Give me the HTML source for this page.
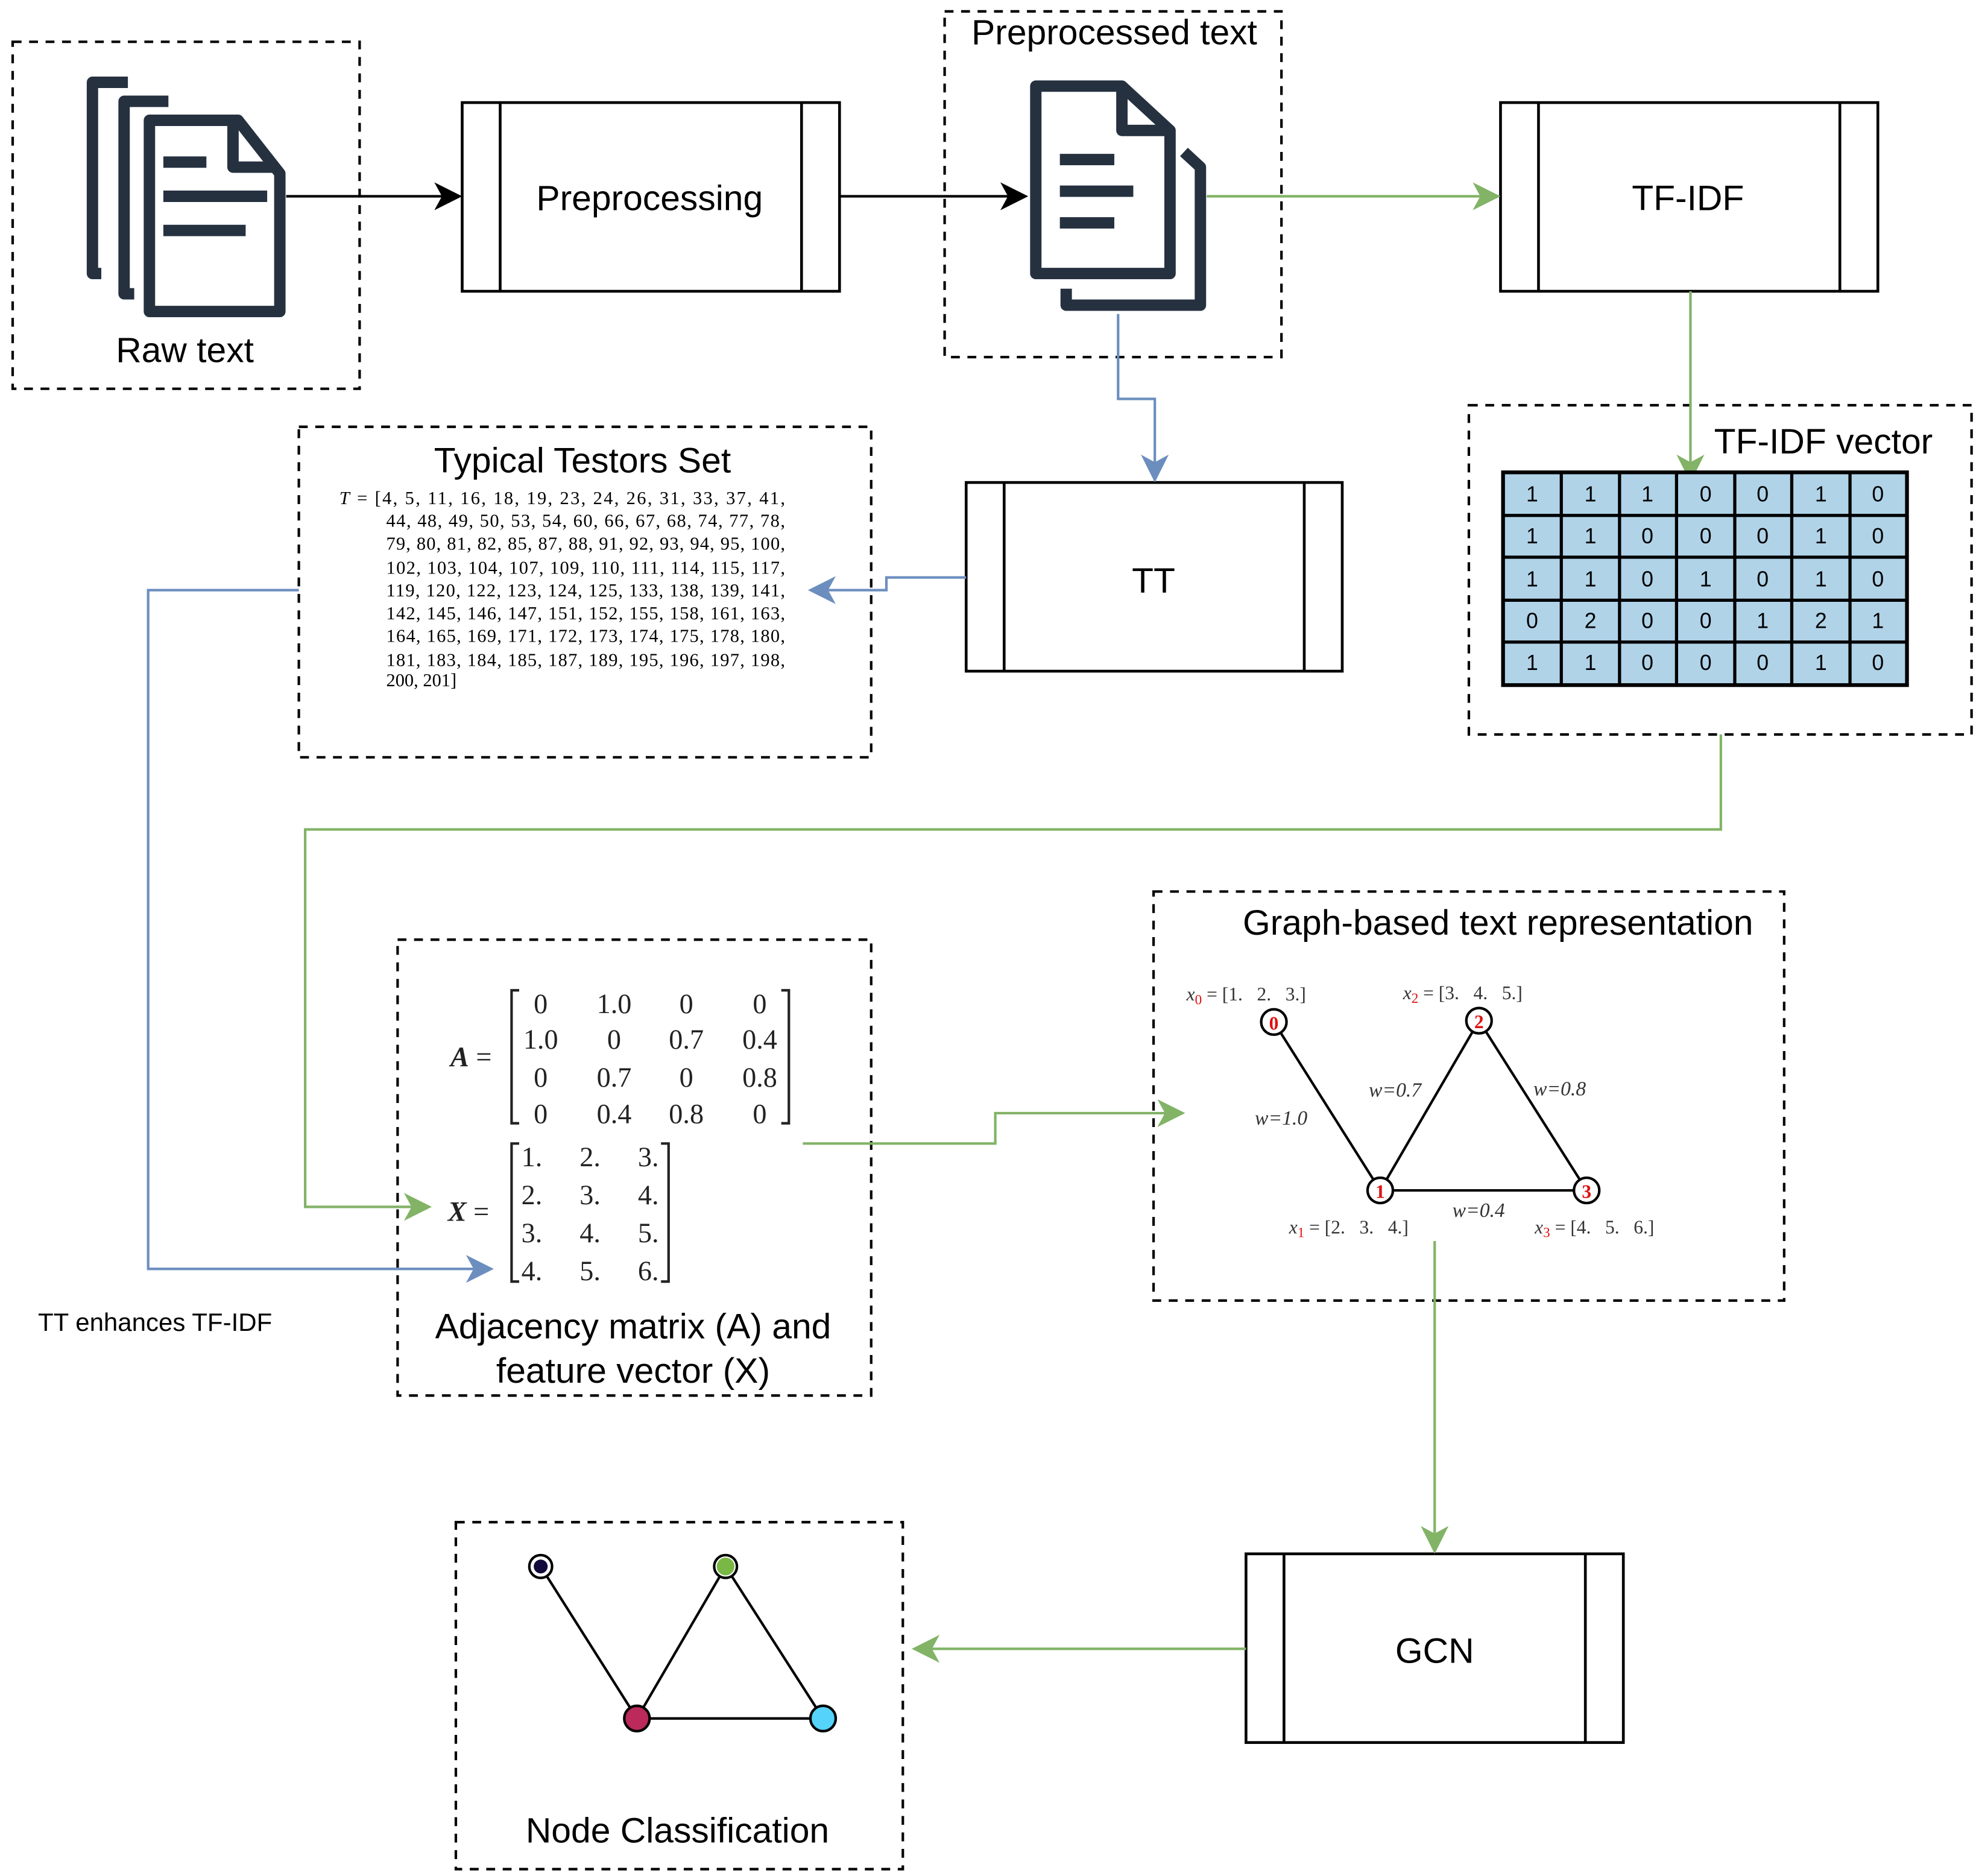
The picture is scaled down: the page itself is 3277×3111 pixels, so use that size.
<!DOCTYPE html>
<html><head><meta charset="utf-8"><style>
html,body{margin:0;padding:0;background:#fff;}
svg{display:block;}
.s{font-family:"Liberation Sans",sans-serif;}
.r{font-family:"Liberation Serif",serif;}
</style></head><body>
<svg width="3277" height="3111" viewBox="0 0 1560.5 1481.4" preserveAspectRatio="none" xmlns="http://www.w3.org/2000/svg">
<rect width="1560.5" height="1481.4" fill="#fff"/>
<g fill="none" stroke="#000" stroke-width="2" stroke-dasharray="7,6">
<rect x="10" y="33" width="274" height="274"/>
<rect x="746" y="9" width="266" height="273"/>
<rect x="1160" y="320" width="397" height="260"/>
<rect x="236" y="337" width="452" height="261"/>
<rect x="314" y="742" width="374" height="360"/>
<rect x="911" y="704" width="498" height="323"/>
<rect x="360" y="1202" width="353" height="274"/>
</g>
<g fill="#fff" stroke="#000" stroke-width="2.2">
<rect x="365" y="81" width="298" height="149"/><line x1="395" y1="81" x2="395" y2="230"/><line x1="633" y1="81" x2="633" y2="230"/>
<rect x="1185" y="81" width="298" height="149"/><line x1="1215" y1="81" x2="1215" y2="230"/><line x1="1453" y1="81" x2="1453" y2="230"/>
<rect x="763" y="381" width="297" height="149"/><line x1="793" y1="381" x2="793" y2="530"/><line x1="1030" y1="381" x2="1030" y2="530"/>
<rect x="984" y="1227" width="298" height="149"/><line x1="1014" y1="1227" x2="1014" y2="1376"/><line x1="1252" y1="1227" x2="1252" y2="1376"/>
</g>
<g class="s" font-size="28" text-anchor="middle" fill="#000">
<text x="513" y="166">Preprocessing</text>
<text x="1333" y="166">TF-IDF</text>
<text x="911" y="468">TT</text>
<text x="1133" y="1313">GCN</text>
<text x="146" y="286">Raw text</text>
<text x="880" y="35">Preprocessed text</text>
<text x="1440" y="358">TF-IDF vector</text>
<text x="460" y="373">Typical Testors Set</text>
<text x="1183" y="738">Graph-based text representation</text>
<text x="500" y="1057">Adjacency matrix (A) and</text>
<text x="500" y="1092">feature vector (X)</text>
<text x="535" y="1455">Node Classification</text>
</g>
<text class="s" x="30" y="1051" font-size="20">TT enhances TF-IDF</text>
<g fill="none" stroke="#263140" stroke-width="9" stroke-linejoin="round">
<path d="M101,65 L73,65 L73,216 L80,216"/>
<path d="M133,80 L98,80 L98,232 L106,232"/>
<path d="M118,95 L188,95 L221,137 L221,246 L118,246 Z"/>
<path d="M184,97 L184,132 L219,132"/>
</g>
<g stroke="#263140" stroke-width="9"><line x1="129" y1="128" x2="163" y2="128"/><line x1="129" y1="155" x2="211" y2="155"/><line x1="129" y1="182" x2="194" y2="182"/></g>
<g fill="none" stroke="#263140" stroke-width="9" stroke-linejoin="round">
<path d="M935,120 L948,132 L948,241 L842,241 L842,228"/>
<path d="M818,68 L886,68 L924,103 L924,216 L818,216 Z"/>
<path d="M886,70 L886,103 L922,103"/>
</g>
<g stroke="#263140" stroke-width="9"><line x1="837" y1="126" x2="880" y2="126"/><line x1="837" y1="151" x2="895" y2="151"/><line x1="837" y1="176" x2="880" y2="176"/></g>
<g stroke="#000" stroke-width="2" fill="none"><line x1="226" y1="155" x2="350" y2="155"/><line x1="663" y1="155" x2="797" y2="155"/></g>
<path d="M365,155 L343,144 L349,155 L343,166 Z" fill="#000"/>
<path d="M812,155 L790,144 L796,155 L790,166 Z" fill="#000"/>
<g stroke="#82b366" stroke-width="2" fill="none">
<line x1="953" y1="155" x2="1170" y2="155"/>
<line x1="1335" y1="230" x2="1335" y2="366"/>
<polyline points="1359,580 1359,655 241,655 241,953 326,953"/>
<polyline points="634,903 786,903 786,879 921,879"/>
<line x1="1133" y1="980" x2="1133" y2="1211"/>
<line x1="984" y1="1302" x2="735" y2="1302"/>
</g>
<g fill="#82b366">
<path d="M1185,155 L1163,144 L1169,155 L1163,166 Z"/>
<path d="M1335,381 L1324,359 L1335,365 L1346,359 Z"/>
<path d="M341,953 L319,942 L325,953 L319,964 Z"/>
<path d="M936,879 L914,868 L920,879 L914,890 Z"/>
<path d="M1133,1227 L1122,1205 L1133,1211 L1144,1205 Z"/>
<path d="M720,1302 L742,1291 L736,1302 L742,1313 Z"/>
</g>
<g stroke="#6c8ebf" stroke-width="2" fill="none">
<polyline points="883,248 883,315 912,315 912,366"/>
<polyline points="763,456 700,456 700,466 653,466"/>
<polyline points="236,466 117,466 117,1002 375,1002"/>
</g>
<g fill="#6c8ebf">
<path d="M912,381 L901,359 L912,365 L923,359 Z"/>
<path d="M638,466 L660,455 L654,466 L660,477 Z"/>
<path d="M390,1002 L368,991 L374,1002 L368,1013 Z"/>
</g>
<g>
<rect x="1187" y="373" width="319" height="168" fill="#b0d3e8" stroke="#000" stroke-width="3"/>
<g stroke="#000" stroke-width="2.5">
<line x1="1233" y1="373" x2="1233" y2="541"/><line x1="1279" y1="373" x2="1279" y2="541"/><line x1="1324" y1="373" x2="1324" y2="541"/><line x1="1370" y1="373" x2="1370" y2="541"/><line x1="1415" y1="373" x2="1415" y2="541"/><line x1="1461" y1="373" x2="1461" y2="541"/>
<line x1="1187" y1="407" x2="1506" y2="407"/><line x1="1187" y1="440" x2="1506" y2="440"/><line x1="1187" y1="474" x2="1506" y2="474"/><line x1="1187" y1="507" x2="1506" y2="507"/>
</g>
<g class="s" font-size="17" text-anchor="middle">
<text x="1210" y="396">1</text><text x="1256" y="396">1</text><text x="1301" y="396">1</text><text x="1347" y="396">0</text><text x="1392" y="396">0</text><text x="1438" y="396">1</text><text x="1483" y="396">0</text>
<text x="1210" y="429">1</text><text x="1256" y="429">1</text><text x="1301" y="429">0</text><text x="1347" y="429">0</text><text x="1392" y="429">0</text><text x="1438" y="429">1</text><text x="1483" y="429">0</text>
<text x="1210" y="463">1</text><text x="1256" y="463">1</text><text x="1301" y="463">0</text><text x="1347" y="463">1</text><text x="1392" y="463">0</text><text x="1438" y="463">1</text><text x="1483" y="463">0</text>
<text x="1210" y="496">0</text><text x="1256" y="496">2</text><text x="1301" y="496">0</text><text x="1347" y="496">0</text><text x="1392" y="496">1</text><text x="1438" y="496">2</text><text x="1483" y="496">1</text>
<text x="1210" y="529">1</text><text x="1256" y="529">1</text><text x="1301" y="529">0</text><text x="1347" y="529">0</text><text x="1392" y="529">0</text><text x="1438" y="529">1</text><text x="1483" y="529">0</text>
</g>
</g>
<g class="r" font-size="14.5" fill="#000">
<text x="268" y="398" textLength="352" lengthAdjust="spacing"><tspan font-style="italic">T</tspan> = [4, 5, 11, 16, 18, 19, 23, 24, 26, 31, 33, 37, 41,</text>
<text x="305" y="416" textLength="315">44, 48, 49, 50, 53, 54, 60, 66, 67, 68, 74, 77, 78,</text>
<text x="305" y="434" textLength="315">79, 80, 81, 82, 85, 87, 88, 91, 92, 93, 94, 95, 100,</text>
<text x="305" y="453" textLength="315">102, 103, 104, 107, 109, 110, 111, 114, 115, 117,</text>
<text x="305" y="471" textLength="315">119, 120, 122, 123, 124, 125, 133, 138, 139, 141,</text>
<text x="305" y="489" textLength="315">142, 145, 146, 147, 151, 152, 155, 158, 161, 163,</text>
<text x="305" y="507" textLength="315">164, 165, 169, 171, 172, 173, 174, 175, 178, 180,</text>
<text x="305" y="526" textLength="315">181, 183, 184, 185, 187, 189, 195, 196, 197, 198,</text>
<text x="305" y="542">200, 201]</text>
</g>
<g class="r" font-size="22" fill="#222" text-anchor="middle">
<text x="372" y="842"><tspan font-weight="bold" font-style="italic">A</tspan> =</text>
<text x="370" y="964"><tspan font-weight="bold" font-style="italic">X</tspan> =</text>
<text x="427" y="800">0</text><text x="485" y="800">1.0</text><text x="542" y="800">0</text><text x="600" y="800">0</text>
<text x="427" y="828">1.0</text><text x="485" y="828">0</text><text x="542" y="828">0.7</text><text x="600" y="828">0.4</text>
<text x="427" y="858">0</text><text x="485" y="858">0.7</text><text x="542" y="858">0</text><text x="600" y="858">0.8</text>
<text x="427" y="887">0</text><text x="485" y="887">0.4</text><text x="542" y="887">0.8</text><text x="600" y="887">0</text>
<text x="420" y="921">1.</text><text x="466" y="921">2.</text><text x="512" y="921">3.</text>
<text x="420" y="951">2.</text><text x="466" y="951">3.</text><text x="512" y="951">4.</text>
<text x="420" y="981">3.</text><text x="466" y="981">4.</text><text x="512" y="981">5.</text>
<text x="420" y="1011">4.</text><text x="466" y="1011">5.</text><text x="512" y="1011">6.</text>
</g>
<g stroke="#222" stroke-width="2" fill="none">
<polyline points="410,782 404,782 404,887 410,887"/><polyline points="617,782 623,782 623,887 617,887"/>
<polyline points="410,903 404,903 404,1012 410,1012"/><polyline points="522,903 528,903 528,1012 522,1012"/>
</g>
<g stroke="#000" stroke-width="2" fill="none">
<line x1="1006" y1="807" x2="1090" y2="940"/><line x1="1090" y1="940" x2="1168" y2="806"/><line x1="1168" y1="806" x2="1253" y2="940"/><line x1="1090" y1="940" x2="1253" y2="940"/>
</g>
<g fill="#fff" stroke="#000" stroke-width="2">
<circle cx="1006" cy="807" r="10"/><circle cx="1168" cy="806" r="10"/><circle cx="1090" cy="940" r="10"/><circle cx="1253" cy="940" r="10"/>
</g>
<g class="r" font-size="15" fill="#e01010" text-anchor="middle" font-weight="bold">
<text x="1006" y="813">0</text><text x="1168" y="812">2</text><text x="1090" y="946">1</text><text x="1253" y="946">3</text>
</g>
<g class="r" font-size="15" fill="#333">
<text x="937" y="790"><tspan font-style="italic">x</tspan><tspan fill="#e01010" font-size="11" dy="3">0</tspan><tspan dy="-3"> = [1.&#160;&#160;&#160;2.&#160;&#160;&#160;3.]</tspan></text>
<text x="1108" y="789"><tspan font-style="italic">x</tspan><tspan fill="#e01010" font-size="11" dy="3">2</tspan><tspan dy="-3"> = [3.&#160;&#160;&#160;4.&#160;&#160;&#160;5.]</tspan></text>
<text x="1018" y="974"><tspan font-style="italic">x</tspan><tspan fill="#e01010" font-size="11" dy="3">1</tspan><tspan dy="-3"> = [2.&#160;&#160;&#160;3.&#160;&#160;&#160;4.]</tspan></text>
<text x="1212" y="974"><tspan font-style="italic">x</tspan><tspan fill="#e01010" font-size="11" dy="3">3</tspan><tspan dy="-3"> = [4.&#160;&#160;&#160;5.&#160;&#160;&#160;6.]</tspan></text>
</g>
<g class="r" font-size="16" fill="#333" font-style="italic">
<text x="991" y="888">w=1.0</text>
<text x="1081" y="866">w=0.7</text>
<text x="1211" y="865">w=0.8</text>
<text x="1147" y="961">w=0.4</text>
</g>
<g stroke="#000" stroke-width="2" fill="none">
<line x1="427" y1="1237" x2="503" y2="1357"/><line x1="503" y1="1357" x2="573" y2="1237"/><line x1="573" y1="1237" x2="650" y2="1357"/><line x1="503" y1="1357" x2="650" y2="1357"/>
</g>
<g stroke="#000" stroke-width="2">
<circle cx="427" cy="1237" r="9" fill="#fff"/><circle cx="427" cy="1237" r="5.5" fill="#120a3a" stroke="none"/>
<circle cx="573" cy="1237" r="9" fill="#fff"/><circle cx="573" cy="1237" r="7" fill="#7ab845" stroke="none"/>
<circle cx="503" cy="1357" r="10" fill="#bb2a5a"/>
<circle cx="650" cy="1357" r="10" fill="#55d3fa"/>
</g>
</svg>
</body></html>
